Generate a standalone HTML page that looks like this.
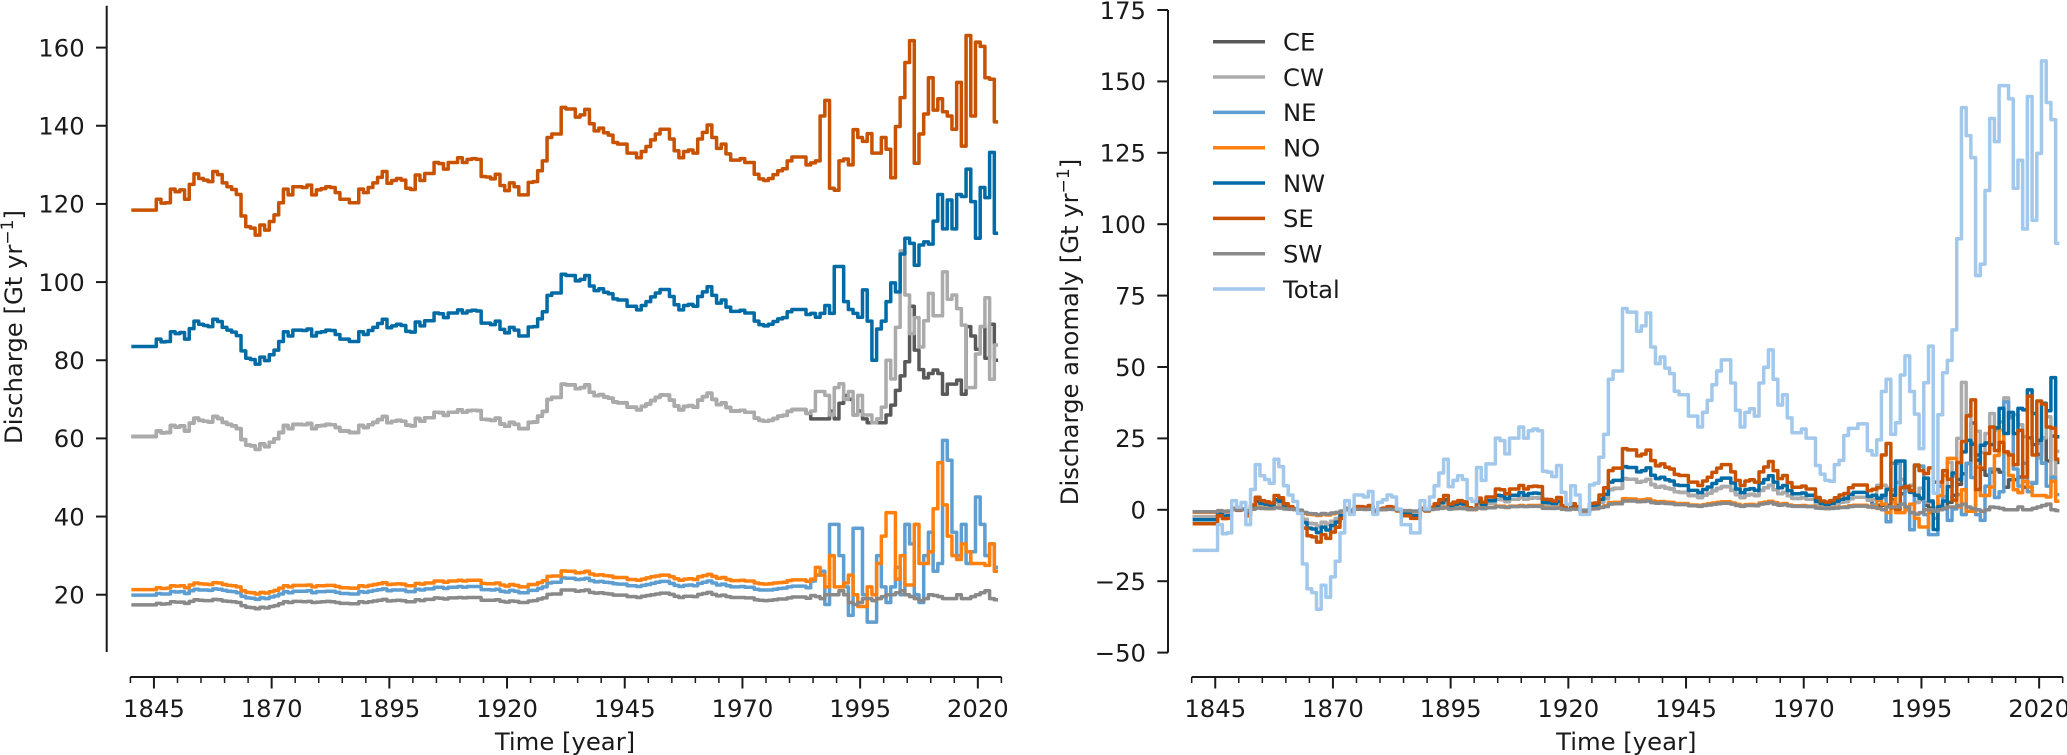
<!DOCTYPE html>
<html lang="en">
<head>
<meta charset="utf-8">
<title>Discharge and discharge anomaly</title>
<style>
html,body{margin:0;padding:0;background:#fff;width:2067px;height:755px;overflow:hidden}
svg{display:block;font-family:"DejaVu Sans","Liberation Sans",sans-serif;fill:#1a1a1a}
text{font-size:24.3px}
</style>
</head>
<body>
<svg id="chart" xmlns="http://www.w3.org/2000/svg" width="2067" height="755" viewBox="0 0 2067 755">
  <g id="left-panel">
    <text transform="translate(22,327) rotate(-90)" text-anchor="middle">Discharge [Gt yr<tspan dy="-9" font-size="17">−1</tspan><tspan dy="9">]</tspan></text>
    <text x="565" y="750" text-anchor="middle">Time [year]</text>
  </g>
  <g id="right-panel">
    <text transform="translate(1078,332) rotate(-90)" text-anchor="middle">Discharge anomaly [Gt yr<tspan dy="-9" font-size="17">−1</tspan><tspan dy="9">]</tspan></text>
    <text x="1626.3" y="750" text-anchor="middle">Time [year]</text>
  </g>
  <g id="legend">
    <g><line x1="1213" x2="1265" y1="41.7" y2="41.7" stroke="#595959" stroke-width="3.5"/><text x="1283" y="50.5">CE</text></g>
    <g><line x1="1213" x2="1265" y1="77" y2="77" stroke="#ABABAB" stroke-width="3.5"/><text x="1283" y="85.8">CW</text></g>
    <g><line x1="1213" x2="1265" y1="112.4" y2="112.4" stroke="#5F9ED1" stroke-width="3.5"/><text x="1283" y="121.2">NE</text></g>
    <g><line x1="1213" x2="1265" y1="147.7" y2="147.7" stroke="#FF800E" stroke-width="3.5"/><text x="1283" y="156.5">NO</text></g>
    <g><line x1="1213" x2="1265" y1="183" y2="183" stroke="#006BA4" stroke-width="3.5"/><text x="1283" y="191.8">NW</text></g>
    <g><line x1="1213" x2="1265" y1="218.4" y2="218.4" stroke="#C85200" stroke-width="3.5"/><text x="1283" y="227.2">SE</text></g>
    <g><line x1="1213" x2="1265" y1="253.7" y2="253.7" stroke="#898989" stroke-width="3.5"/><text x="1283" y="262.5">SW</text></g>
    <g><line x1="1213" x2="1265" y1="289" y2="289" stroke="#A2C8EC" stroke-width="3.5"/><text x="1283" y="297.8">Total</text></g>
  </g>
</svg>
<script>
const firstYear = 1840;
const xMajorTicks = [1845,1870,1895,1920,1945,1970,1995,2020];
const xMinorTicks = [1840,1850,1855,1860,1865,1875,1880,1885,1890,1900,1905,1910,1915,1925,1930,1935,1940,1950,1955,1960,1965,1975,1980,1985,1990,2000,2005,2010,2015,2025];
const leftYTicks = [20,40,60,80,100,120,140,160];
const rightYTicks = [-50,-25,0,25,50,75,100,125,150,175];

const dischargeCE = [60.5,60.5,60.5,60.5,60.5,60.5,
61.9,61.4,61.5,63.3,62.9,63.2,61.9,63.9,65.2,64.6,
64.4,64.2,65.6,65.1,64.1,63.6,63.2,62.5,59.7,58.3,
58.1,57.2,58.6,57.9,59,59.9,61.5,63.3,62.5,63.6,
63.6,63.5,63.8,62.5,63.2,63.3,63.6,63.5,62.8,61.9,
61.9,61.5,61.5,63.3,62.8,63.5,64.1,64.8,65.6,64,
64.4,64.6,64.4,63.4,63.2,65.1,64.4,65.3,65.3,66.7,
66.6,65.9,66.7,66.7,67.3,66.7,67.1,67.2,67.1,64.9,
64.8,64.6,65.2,63.7,63.1,64.1,63.6,62.5,62.5,64.1,
64.2,65.7,66.9,70,70.5,70.5,73.9,73.7,73.7,72.7,
73,73.7,71.8,70.9,71.2,70.6,70.3,69.3,69.1,69.1,
68,68,67.3,68.2,68.8,69.7,70.5,71.1,71.1,69.8,
68.3,67.3,68.2,68.4,68,69.8,70.7,71.6,70,68.6,
69.1,67.9,67,67,67.2,66.7,66.7,65.2,64.6,64.4,
64.6,65.1,65.7,65.9,66.9,67.4,67.4,67.4,66.4,
65,65,65,65,67,65,69,71,70,66,
67,65,64,64,64,64,66,68.5,72.3,76,
79.6,93.8,82.6,77.6,75.5,76.6,77.5,76.6,71.3,73.9,
73.9,74.9,71.3,88.6,86.2,82.8,88.6,80.5,89.2,80];

const dischargeCW = [60.5,60.5,60.5,60.5,60.5,60.5,
61.9,61.4,61.5,63.3,62.9,63.2,61.9,63.9,65.2,64.6,
64.4,64.2,65.6,65.1,64.1,63.6,63.2,62.5,59.7,58.3,
58.1,57.2,58.6,57.9,59,59.9,61.5,63.3,62.5,63.6,
63.6,63.5,63.8,62.5,63.2,63.3,63.6,63.5,62.8,61.9,
61.9,61.5,61.5,63.3,62.8,63.5,64.1,64.8,65.6,64,
64.4,64.6,64.4,63.4,63.2,65.1,64.4,65.3,65.3,66.7,
66.6,65.9,66.7,66.7,67.3,66.7,67.1,67.2,67.1,64.9,
64.8,64.6,65.2,63.7,63.1,64.1,63.6,62.5,62.5,64.1,
64.2,65.7,66.9,70,70.5,70.5,73.9,73.7,73.7,72.7,
73,73.7,71.8,70.9,71.2,70.6,70.3,69.3,69.1,69.1,
68,68,67.3,68.2,68.8,69.7,70.5,71.1,71.1,69.8,
68.3,67.3,68.2,68.4,68,69.8,70.7,71.6,70,68.6,
69.1,67.9,67,67,67.2,66.7,66.7,65.2,64.6,64.4,
64.6,65.1,65.7,65.9,66.9,67.4,67.4,67.4,66.4,
67,72,72,71,66,73,74,70,72,66,
71,66,66,64,65,68,80,75.2,88.4,108,
96.7,86.8,90.9,83.4,90.1,97.1,91.4,91.4,102.6,95.6,
96.7,93.2,89,73,73,81.6,88.6,96,75.1,83.9];

const dischargeNE = [19.9,19.9,19.9,19.9,19.9,19.9,
20.3,20.2,20.2,20.8,20.7,20.8,20.3,21,21.4,21.2,
21.2,21.1,21.5,21.4,21.1,20.9,20.8,20.5,19.6,19.2,
19.1,18.8,19.2,19,19.4,19.7,20.2,20.8,20.5,20.9,
20.9,20.9,21,20.5,20.8,20.8,20.9,20.9,20.6,20.3,
20.3,20.2,20.2,20.8,20.6,20.9,21.1,21.3,21.5,21,
21.2,21.2,21.2,20.8,20.8,21.4,21.2,21.5,21.5,21.9,
21.9,21.6,21.9,21.9,22.1,21.9,22.1,22.1,22.1,21.3,
21.3,21.2,21.4,20.9,20.7,21.1,20.9,20.5,20.5,21.1,
21.1,21.6,22,23,23.2,23.2,24.3,24.2,24.2,23.9,
24,24.2,23.6,23.3,23.4,23.2,23.1,22.8,22.7,22.7,
22.3,22.3,22.1,22.4,22.6,22.9,23.2,23.4,23.4,22.9,
22.4,22.1,22.4,22.5,22.3,22.9,23.2,23.5,23,22.5,
22.7,22.3,22,22,22.1,21.9,21.9,21.4,21.2,21.2,
21.2,21.4,21.6,21.7,22,22.2,22.2,22.2,21.8,
23.5,25,26,17.5,38,38,30,22,14.7,37,
37,20,13,13,30,22,18,22,27,20,
38,33,20,18,30,36,26,28,59.5,54.4,
36,30,38,28,31,45,38,30,33,27];

const dischargeNO = [21.3,21.3,21.3,21.3,21.3,21.3,
21.8,21.6,21.7,22.3,22.2,22.3,21.8,22.5,23,22.8,
22.7,22.6,23.1,23,22.6,22.4,22.3,22,21,20.6,
20.5,20.2,20.6,20.4,20.8,21.1,21.7,22.3,22,22.4,
22.4,22.4,22.5,22,22.3,22.3,22.4,22.4,22.1,21.8,
21.8,21.7,21.7,22.3,22.1,22.4,22.6,22.8,23.1,22.6,
22.7,22.8,22.7,22.3,22.3,22.9,22.7,23,23,23.5,
23.5,23.2,23.5,23.5,23.7,23.5,23.7,23.7,23.7,22.9,
22.8,22.8,23,22.5,22.2,22.6,22.4,22,22,22.6,
22.6,23.1,23.6,24.7,24.8,24.8,26.1,26,26,25.6,
25.7,26,25.3,25,25.1,24.9,24.8,24.4,24.4,24.4,
23.9,23.9,23.7,24,24.3,24.6,24.8,25,25,24.6,
24.1,23.7,24,24.1,23.9,24.6,24.9,25.2,24.7,24.2,
24.4,23.9,23.6,23.6,23.7,23.5,23.5,23,22.8,22.7,
22.8,23,23.1,23.2,23.6,23.8,23.8,23.8,23.4,
24,27,25,22,30,22,22,23,25,20,
17,17,22,20,28,35,41,41,24,30,
22.5,22.5,38,28,28,31,42,53.8,43,35,
30,29,33,31,28,28,28,27.5,33,26];

const dischargeNW = [83.5,83.5,83.5,83.5,83.5,83.5,
85.4,84.7,84.8,87.3,86.8,87.1,85.4,88.1,90,89.2,
88.9,88.6,90.5,89.9,88.4,87.7,87.2,86.3,82.4,80.5,
80.2,79,80.8,79.9,81.4,82.6,84.8,87.3,86.2,87.7,
87.7,87.6,88,86.2,87.1,87.3,87.7,87.6,86.6,85.4,
85.4,84.8,84.8,87.3,86.6,87.6,88.4,89.4,90.5,88.3,
88.8,89.2,88.9,87.4,87.2,89.8,88.8,90.1,90.1,92.1,
91.9,90.9,92.1,92.1,92.9,92.1,92.6,92.8,92.6,89.5,
89.5,89.1,90,87.9,87,88.4,87.7,86.2,86.2,88.5,
88.6,90.6,92.4,96.6,97.2,97.2,102,101.7,101.7,100.3,
100.7,101.7,99,97.8,98.3,97.4,97,95.7,95.4,95.4,
93.8,93.8,92.9,94,95,96.2,97.2,98.1,98.1,96.3,
94.2,92.9,94,94.3,93.8,96.3,97.5,98.8,96.6,94.6,
95.4,93.6,92.5,92.5,92.8,92.1,92.1,90,89.1,88.8,
89.2,89.9,90.6,90.9,92.4,93,93,93,91.7,
92,91,92,94,92,104,104,95,93,92,
91,98,90,80,88,90,95,99.8,97.5,107.2,
111.2,109.9,104.3,109.5,110.3,109.7,115.6,122.4,113.6,121,
113.6,122.4,121.9,128.9,120.6,111.2,124.2,121.6,133.2,112.5];

const dischargeSE = [118.4,118.4,118.4,118.4,118.4,118.4,
121.2,120.2,120.3,123.8,123.1,123.6,121.2,125.0,127.7,126.5,
126.1,125.7,128.3,127.5,125.4,124.4,123.7,122.4,116.9,114.2,
113.8,112.0,114.6,113.3,115.5,117.2,120.3,123.8,122.3,124.4,
124.4,124.2,124.8,122.3,123.6,123.9,124.4,124.2,122.9,121.2,
121.2,120.3,120.3,123.8,122.9,124.2,125.4,126.8,128.3,125.3,
126.0,126.5,126.1,124.0,123.7,127.4,126.0,127.8,127.8,130.6,
130.3,128.9,130.6,130.6,131.8,130.6,131.4,131.6,131.4,127.0,
126.9,126.4,127.6,124.7,123.4,125.4,124.4,122.3,122.3,125.5,
125.7,128.5,131.0,137.0,137.9,137.9,144.7,144.3,144.3,142.2,
142.8,144.2,140.5,138.7,139.4,138.2,137.6,135.7,135.3,135.3,
133.0,133.0,131.8,133.4,134.7,136.4,137.9,139.1,139.1,136.6,
133.6,131.8,133.4,133.8,133.0,136.6,138.3,140.2,137.0,134.2,
135.3,132.8,131.2,131.2,131.6,130.6,130.6,127.6,126.4,126.0,
126.5,127.5,128.5,129,131,132,132,132,130,
130.5,131,142.5,146.5,124,123.5,131,131.5,130,139,
137,136,138,133,133,137,134,126.7,139.8,147.2,
156.2,161.8,130.4,137.9,143,152.3,144,146.9,143.6,142.5,
139.1,151.1,134.8,163.1,142.5,161.4,160.3,152.3,151.9,141];

const dischargeSW = [17.4,17.4,17.4,17.4,17.4,17.4,
17.8,17.6,17.7,18.2,18.1,18.1,17.8,18.3,18.7,18.6,
18.5,18.5,18.8,18.7,18.4,18.3,18.2,18,17.2,16.8,
16.7,16.4,16.8,16.6,17,17.2,17.7,18.2,18,18.3,
18.3,18.2,18.3,18,18.1,18.2,18.3,18.2,18,17.8,
17.8,17.7,17.7,18.2,18,18.2,18.4,18.6,18.8,18.4,
18.5,18.6,18.5,18.2,18.2,18.7,18.5,18.8,18.8,19.2,
19.1,18.9,19.2,19.2,19.3,19.2,19.3,19.3,19.3,18.6,
18.6,18.6,18.7,18.3,18.1,18.4,18.3,18,18,18.4,
18.5,18.9,19.2,20.1,20.2,20.2,21.2,21.2,21.2,20.9,
21,21.2,20.6,20.4,20.5,20.3,20.2,19.9,19.9,19.9,
19.5,19.5,19.3,19.6,19.8,20,20.2,20.4,20.4,20.1,
19.6,19.3,19.6,19.6,19.5,20.1,20.3,20.6,20.1,19.7,
19.9,19.5,19.3,19.3,19.3,19.2,19.2,18.7,18.6,18.5,
18.6,18.7,18.9,18.9,19.2,19.4,19.4,19.4,19.1,
19.8,19.5,19,20,20,20,21,20,18,17.5,
18,19,19,18.5,19,19.5,20,20,20.5,21,
20,19.5,19,18.5,19,20,19.8,19.5,19,19,
19,20,19,19,19.5,20,20.5,21,19,18.7];

const anomalyCE = [-2.5,-2.5,-2.5,-2.5,-2.5,-2.5,
-1.1,-1.6,-1.5,.3,-.1,.2,-1.1,.9,2.2,1.6,
1.4,1.2,2.6,2.1,1.1,.6,.2,-.5,-3.3,-4.7,
-4.9,-5.8,-4.4,-5.1,-4,-3.1,-1.5,.3,-.5,.6,
.6,.5,.8,-.5,.2,.3,.6,.5,-.2,-1.1,
-1.1,-1.5,-1.5,.3,-.2,.5,1.1,1.8,2.6,1,
1.4,1.6,1.4,.4,.2,2.1,1.4,2.3,2.3,3.7,
3.6,2.9,3.7,3.7,4.3,3.7,4.1,4.2,4.1,1.9,
1.8,1.6,2.2,.7,.1,1.1,.6,-.5,-.5,1.1,
1.2,2.7,3.9,7,7.5,7.5,10.9,10.7,10.7,9.7,
10,10.7,8.8,7.9,8.2,7.6,7.3,6.3,6.1,6.1,
5,5,4.3,5.2,5.8,6.7,7.5,8.1,8.1,6.8,
5.3,4.3,5.2,5.4,5,6.8,7.7,8.6,7,5.6,
6.1,4.9,4,4,4.2,3.7,3.7,2.2,1.6,1.4,
1.6,2.1,2.7,2.9,3.9,4.4,4.4,4.4,3.4,
1.6,1.6,1.6,1.6,3.6,1.6,5.6,7.6,6.6,2.6,
3.6,1.6,.6,.6,.6,.6,2.6,5.1,8.9,12.6,
16.2,30.4,19.2,14.2,12.1,13.2,14.1,13.2,7.9,10.5,
10.5,11.5,7.9,25.2,22.8,19.4,25.2,17.1,25.8,16.6];

const anomalyCW = [-2.5,-2.5,-2.5,-2.5,-2.5,-2.5,
-1.1,-1.6,-1.5,.3,-.1,.2,-1.1,.9,2.2,1.6,
1.4,1.2,2.6,2.1,1.1,.6,.2,-.5,-3.3,-4.7,
-4.9,-5.8,-4.4,-5.1,-4,-3.1,-1.5,.3,-.5,.6,
.6,.5,.8,-.5,.2,.3,.6,.5,-.2,-1.1,
-1.1,-1.5,-1.5,.3,-.2,.5,1.1,1.8,2.6,1,
1.4,1.6,1.4,.4,.2,2.1,1.4,2.3,2.3,3.7,
3.6,2.9,3.7,3.7,4.3,3.7,4.1,4.2,4.1,1.9,
1.8,1.6,2.2,.7,.1,1.1,.6,-.5,-.5,1.1,
1.2,2.7,3.9,7,7.5,7.5,10.9,10.7,10.7,9.7,
10,10.7,8.8,7.9,8.2,7.6,7.3,6.3,6.1,6.1,
5,5,4.3,5.2,5.8,6.7,7.5,8.1,8.1,6.8,
5.3,4.3,5.2,5.4,5,6.8,7.7,8.6,7,5.6,
6.1,4.9,4,4,4.2,3.7,3.7,2.2,1.6,1.4,
1.6,2.1,2.7,2.9,3.9,4.4,4.4,4.4,3.4,
3.6,8.6,8.6,7.6,2.6,9.6,10.6,6.6,8.6,2.6,
7.6,2.6,2.6,.6,1.6,4.6,16.6,11.8,25,44.6,
33.3,23.4,27.5,20,26.7,33.7,28,28,39.2,32.2,
33.3,29.8,25.6,9.6,9.6,18.2,25.2,32.6,11.7,20.5];

const anomalyNE = [-.8,-.8,-.8,-.8,-.8,-.8,
-.4,-.5,-.5,.1,0,.1,-.4,.3,.7,.5,
.5,.4,.8,.7,.4,.2,.1,-.2,-1.1,-1.5,
-1.6,-1.9,-1.5,-1.7,-1.3,-1,-.5,.1,-.2,.2,
.2,.2,.3,-.2,.1,.1,.2,.2,-.1,-.4,
-.4,-.5,-.5,.1,-.1,.2,.4,.6,.8,.3,
.5,.5,.5,.1,.1,.7,.5,.8,.8,1.2,
1.2,.9,1.2,1.2,1.4,1.2,1.4,1.4,1.4,.6,
.6,.5,.7,.2,0,.4,.2,-.2,-.2,.4,
.4,.9,1.3,2.3,2.5,2.5,3.6,3.5,3.5,3.2,
3.3,3.5,2.9,2.6,2.7,2.5,2.4,2.1,2,2,
1.6,1.6,1.4,1.7,1.9,2.2,2.5,2.7,2.7,2.2,
1.7,1.4,1.7,1.8,1.6,2.2,2.5,2.8,2.3,1.8,
2,1.6,1.3,1.3,1.4,1.2,1.2,.7,.5,.5,
.5,.7,.9,1,1.3,1.5,1.5,1.5,1.1,
1.8,3.3,4.3,-4.2,16.3,16.3,8.3,.3,-7,15.3,
15.3,-1.7,-8.7,-8.7,8.3,.3,-3.7,.3,5.3,-1.7,
16.3,11.3,-1.7,-3.7,8.3,14.3,4.3,6.3,37.8,32.7,
14.3,8.3,16.3,6.3,9.3,23.3,16.3,8.3,11.3,5.3];

const anomalyNO = [-.9,-.9,-.9,-.9,-.9,-.9,
-.4,-.6,-.5,.1,0,.1,-.4,.3,.8,.6,
.5,.4,.9,.8,.4,.2,.1,-.2,-1.2,-1.6,
-1.7,-2,-1.6,-1.8,-1.4,-1.1,-.5,.1,-.2,.2,
.2,.2,.3,-.2,.1,.1,.2,.2,-.1,-.4,
-.4,-.5,-.5,.1,-.1,.2,.4,.6,.9,.4,
.5,.6,.5,.1,.1,.7,.5,.8,.8,1.3,
1.3,1,1.3,1.3,1.5,1.3,1.5,1.5,1.5,.7,
.6,.6,.8,.3,0,.4,.2,-.2,-.2,.4,
.4,.9,1.4,2.5,2.6,2.6,3.9,3.8,3.8,3.4,
3.5,3.8,3.1,2.8,2.9,2.7,2.6,2.2,2.2,2.2,
1.7,1.7,1.5,1.8,2.1,2.4,2.6,2.8,2.8,2.4,
1.9,1.5,1.8,1.9,1.7,2.4,2.7,3,2.5,2,
2.2,1.7,1.4,1.4,1.5,1.3,1.3,.8,.6,.5,
.6,.8,.9,1,1.4,1.6,1.6,1.6,1.2,
1,4,2,-1,7,-1,-1,0,2,-3,
-6,-6,-1,-3,5,12,18,18,1,7,
-.5,-.5,15,5,5,8,19,30.8,20,12,
7,6,10,8,5,5,5,4.5,10,3];

const anomalyNW = [-3.5,-3.5,-3.5,-3.5,-3.5,-3.5,
-1.5,-2.2,-2.1,.4,-.1,.2,-1.5,1.2,3.1,2.3,
2,1.7,3.5,3,1.5,.8,.3,-.6,-4.5,-6.4,
-6.7,-8,-6.1,-7.1,-5.5,-4.3,-2.1,.4,-.7,.8,
.8,.6,1.1,-.7,.2,.4,.8,.6,-.3,-1.5,
-1.5,-2.1,-2.1,.4,-.3,.6,1.5,2.5,3.5,1.4,
1.9,2.3,2,.5,.3,2.9,1.9,3.2,3.2,5.1,
4.9,3.9,5.1,5.1,6,5.1,5.7,5.9,5.7,2.6,
2.5,2.2,3,1,.1,1.5,.8,-.7,-.7,1.6,
1.7,3.7,5.4,9.7,10.3,10.3,15.1,14.8,14.8,13.3,
13.7,14.7,12.1,10.9,11.4,10.5,10.1,8.7,8.5,8.5,
6.8,6.8,6,7.1,8,9.2,10.3,11.1,11.1,9.4,
7.3,6,7.1,7.4,6.8,9.4,10.6,11.9,9.7,7.7,
8.5,6.7,5.6,5.6,5.9,5.1,5.1,3,2.2,1.9,
2.3,3,3.7,4,5.4,6.1,6.1,6.1,4.7,
5.1,4.1,5.1,7.1,5.1,17.1,17.1,8.1,6.1,5.1,
4.1,11.1,3.1,-6.9,1.1,3.1,8.1,12.9,10.6,20.3,
24.3,23,17.4,22.6,23.4,22.8,28.7,35.5,26.7,34.1,
26.7,35.5,35,42,33.7,24.3,37.3,34.7,46.3,25.6];

const anomalySE = [-4.9,-4.9,-4.9,-4.9,-4.9,-4.9,
-2.1,-3.1,-3,.5,-.2,.3,-2.1,1.7,4.4,3.2,
2.8,2.4,5,4.2,2.1,1.1,.4,-.9,-6.4,-9.1,
-9.5,-11.3,-8.7,-10,-7.8,-6.1,-3,.5,-1,1.1,
1.1,.9,1.5,-1,.3,.6,1.1,.9,-.4,-2.1,
-2.1,-3,-3,.5,-.4,.9,2.1,3.5,5,2,
2.7,3.2,2.8,.7,.4,4.1,2.7,4.5,4.5,7.3,
7,5.6,7.3,7.3,8.5,7.3,8.1,8.3,8.1,3.7,
3.6,3.1,4.3,1.4,.1,2.1,1.1,-1,-1,2.2,
2.4,5.2,7.7,13.7,14.6,14.6,21.4,21,21,18.9,
19.5,20.9,17.2,15.4,16.1,14.9,14.3,12.4,12,12,
9.7,9.7,8.5,10.1,11.4,13.1,14.6,15.8,15.8,13.3,
10.3,8.5,10.1,10.5,9.7,13.3,15,16.9,13.7,10.9,
12,9.5,7.9,7.9,8.3,7.3,7.3,4.3,3.1,2.7,
3.2,4.2,5.2,5.7,7.7,8.7,8.7,8.7,6.7,
7.2,7.7,19.2,23.2,.7,.2,7.7,8.2,6.7,15.7,
13.7,12.7,14.7,9.7,9.7,13.7,10.7,3.4,16.5,23.9,
32.9,38.5,7.1,14.6,19.7,29,20.7,23.6,20.3,19.2,
15.8,27.8,11.5,39.8,19.2,38.1,37,29,28.6,17.7];

const anomalySW = [-.7,-.7,-.7,-.7,-.7,-.7,
-.3,-.5,-.4,.1,0,0,-.3,.2,.6,.5,
.4,.4,.7,.6,.3,.2,.1,-.1,-.9,-1.3,
-1.4,-1.7,-1.3,-1.5,-1.1,-.9,-.4,.1,-.1,.2,
.2,.1,.2,-.1,0,.1,.2,.1,-.1,-.3,
-.3,-.4,-.4,.1,-.1,.1,.3,.5,.7,.3,
.4,.5,.4,.1,.1,.6,.4,.7,.7,1.1,
1,.8,1.1,1.1,1.2,1.1,1.2,1.2,1.2,.5,
.5,.5,.6,.2,0,.3,.2,-.1,-.1,.3,
.4,.8,1.1,2,2.1,2.1,3.1,3.1,3.1,2.8,
2.9,3.1,2.5,2.3,2.4,2.2,2.1,1.8,1.8,1.8,
1.4,1.4,1.2,1.5,1.7,1.9,2.1,2.3,2.3,2,
1.5,1.2,1.5,1.5,1.4,2,2.2,2.5,2,1.6,
1.8,1.4,1.2,1.2,1.2,1.1,1.1,.6,.5,.4,
.5,.6,.8,.8,1.1,1.3,1.3,1.3,1,
.8,.5,0,1,1,1,2,1,-1,-1.5,
-1,0,0,-.5,0,.5,1,1,1.5,2,
1,.5,0,-.5,0,1,.8,.5,0,0,
0,1,0,0,.5,1,1.5,2,0,-.3];

const anomalyTotal = [-14.2,-14.2,-14.2,-14.2,-14.2,-14.2,
-5.2,-8.4,-8.1,3.2,1,2.6,-5.2,7.1,15.8,11.9,
10.6,9.3,17.7,15.1,8.4,5.2,2.9,-1.3,-19,-27.7,
-29,-34.8,-26.4,-30.6,-23.5,-18,-8.1,3.2,-1.6,5.2,
5.2,4.5,6.4,-1.6,2.6,3.5,5.2,4.5,.3,-5.2,
-5.2,-8.1,-8.1,3.2,.3,4.5,8.4,12.9,17.7,8.1,
10.3,11.9,10.6,3.9,2.9,14.8,10.3,16.1,16.1,25.1,
24.2,19.6,25.1,25.1,29,25.1,27.7,28.3,27.7,13.5,
13.2,11.6,15.5,6.1,1.9,8.4,5.2,-1.6,-1.6,8.7,
9.3,18.4,26.4,45.7,48.6,48.6,70.5,69.2,69.2,62.5,
64.4,68.9,57,51.2,53.5,49.6,47.7,41.5,40.3,40.3,
32.8,32.8,29,34.1,38.3,43.8,48.6,52.5,52.5,44.4,
34.8,29,34.1,35.4,32.8,44.4,49.9,56,45.7,36.7,
40.3,32.2,27,27,28.3,25.1,25.1,15.5,12.5,10.3,
10,15.8,17.3,26,28.5,28.5,30.1,30.1,20.7,
19.2,24.5,41.4,45.7,26.4,30.5,47.2,53.9,41.4,33.5,
21.4,44.5,57.3,5.8,33.3,48,52.3,63,94.9,140.8,
131,123.3,82,86,111.8,137,128.9,148.5,148.5,143.9,
112.6,122.4,98.3,144.7,101.4,124.8,157.2,142.6,136.6,93.3];

const SVGNS = 'http://www.w3.org/2000/svg';
const INK = '#1a1a1a';

// Axis functions
const xLeft = yr => 130.4 + (yr - 1840) * 4.708;
const xRight = yr => 1191.7 + (yr - 1840) * 4.708;
const yLeft = v => 47.6 + (160 - v) * 3.908;
const yRight = v => 10 + (175 - v) * 2.856;

function stepPath(values, xf, yf) {
  let d = 'M' + xf(firstYear + 0.2).toFixed(2) + ' ' + yf(values[0]).toFixed(2);
  for (let i = 1; i < values.length; i++) {
    const edge = xf(firstYear + i - 0.5).toFixed(2);
    d += 'H' + edge + 'V' + yf(values[i]).toFixed(2);
  }
  d += 'H' + xf(firstYear + values.length - 1 + 0.3).toFixed(2);
  return d;
}

function addSeries(parent, values, color, name, xf, yf) {
  const el = document.createElementNS(SVGNS, 'path');
  
  
  el.setAttribute('d', stepPath(values, xf, yf));
  el.setAttribute('fill', 'none');
  el.setAttribute('stroke', color);
  el.setAttribute('stroke-width', '3.5');
  el.setAttribute('stroke-linejoin', 'round');
  parent.appendChild(el);
}

function addRule(parent, x1, y1, x2, y2, width, name) {
  const el = document.createElementNS(SVGNS, 'line');
  
  
  el.setAttribute('x1', x1);
  el.setAttribute('y1', y1);
  el.setAttribute('x2', x2);
  el.setAttribute('y2', y2);
  el.setAttribute('stroke', INK);
  el.setAttribute('stroke-width', width);
  parent.appendChild(el);
}

function addLabel(parent, x, y, anchor, str, name) {
  const el = document.createElementNS(SVGNS, 'text');
  
  
  el.setAttribute('x', x);
  el.setAttribute('y', y);
  el.setAttribute('text-anchor', anchor);
  el.textContent = str;
  parent.appendChild(el);
}

function drawAxes(parent, xf, yf, yTicks, spineX, spineTop, spineBottom) {
  const axisY = 677;
  addRule(parent, spineX, spineTop, spineX, spineBottom, 2, 'y-axis-line');
  yTicks.forEach(v => {
    addRule(parent, spineX - 10.7, yf(v), spineX, yf(v), 2, 'y-tick-mark');
    addLabel(parent, spineX - 22, yf(v) + 8.8, 'end', String(v).replace('-', '\u2212'), 'y-tick-label');
  });
  addRule(parent, xf(1840), axisY, xf(2025), axisY, 2, 'x-axis-line');
  xMinorTicks.forEach(yr => addRule(parent, xf(yr), axisY, xf(yr), axisY + 6, 1.5, 'x-minor-tick'));
  xMajorTicks.forEach(yr => {
    addRule(parent, xf(yr), axisY, xf(yr), axisY + 11.5, 2, 'x-major-tick');
    addLabel(parent, xf(yr), 717, 'middle', String(yr), 'x-tick-label');
  });
}

const leftPanel = document.getElementById('left-panel');
const rightPanel = document.getElementById('right-panel');

drawAxes(leftPanel, xLeft, yLeft, leftYTicks, 106.7, 5.7, 652);
drawAxes(rightPanel, xRight, yRight, rightYTicks, 1168, 10, 652.6);

addSeries(leftPanel, dischargeCE, '#595959', 'series-ce', xLeft, yLeft);
addSeries(leftPanel, dischargeCW, '#ABABAB', 'series-cw', xLeft, yLeft);
addSeries(leftPanel, dischargeNE, '#5F9ED1', 'series-ne', xLeft, yLeft);
addSeries(leftPanel, dischargeNO, '#FF800E', 'series-no', xLeft, yLeft);
addSeries(leftPanel, dischargeNW, '#006BA4', 'series-nw', xLeft, yLeft);
addSeries(leftPanel, dischargeSE, '#C85200', 'series-se', xLeft, yLeft);
addSeries(leftPanel, dischargeSW, '#898989', 'series-sw', xLeft, yLeft);

addSeries(rightPanel, anomalyCE, '#595959', 'anomaly-ce', xRight, yRight);
addSeries(rightPanel, anomalyCW, '#ABABAB', 'anomaly-cw', xRight, yRight);
addSeries(rightPanel, anomalyNE, '#5F9ED1', 'anomaly-ne', xRight, yRight);
addSeries(rightPanel, anomalyNO, '#FF800E', 'anomaly-no', xRight, yRight);
addSeries(rightPanel, anomalyNW, '#006BA4', 'anomaly-nw', xRight, yRight);
addSeries(rightPanel, anomalySE, '#C85200', 'anomaly-se', xRight, yRight);
addSeries(rightPanel, anomalySW, '#898989', 'anomaly-sw', xRight, yRight);
addSeries(rightPanel, anomalyTotal, '#A2C8EC', 'anomaly-total', xRight, yRight);
</script>
</body>
</html>
